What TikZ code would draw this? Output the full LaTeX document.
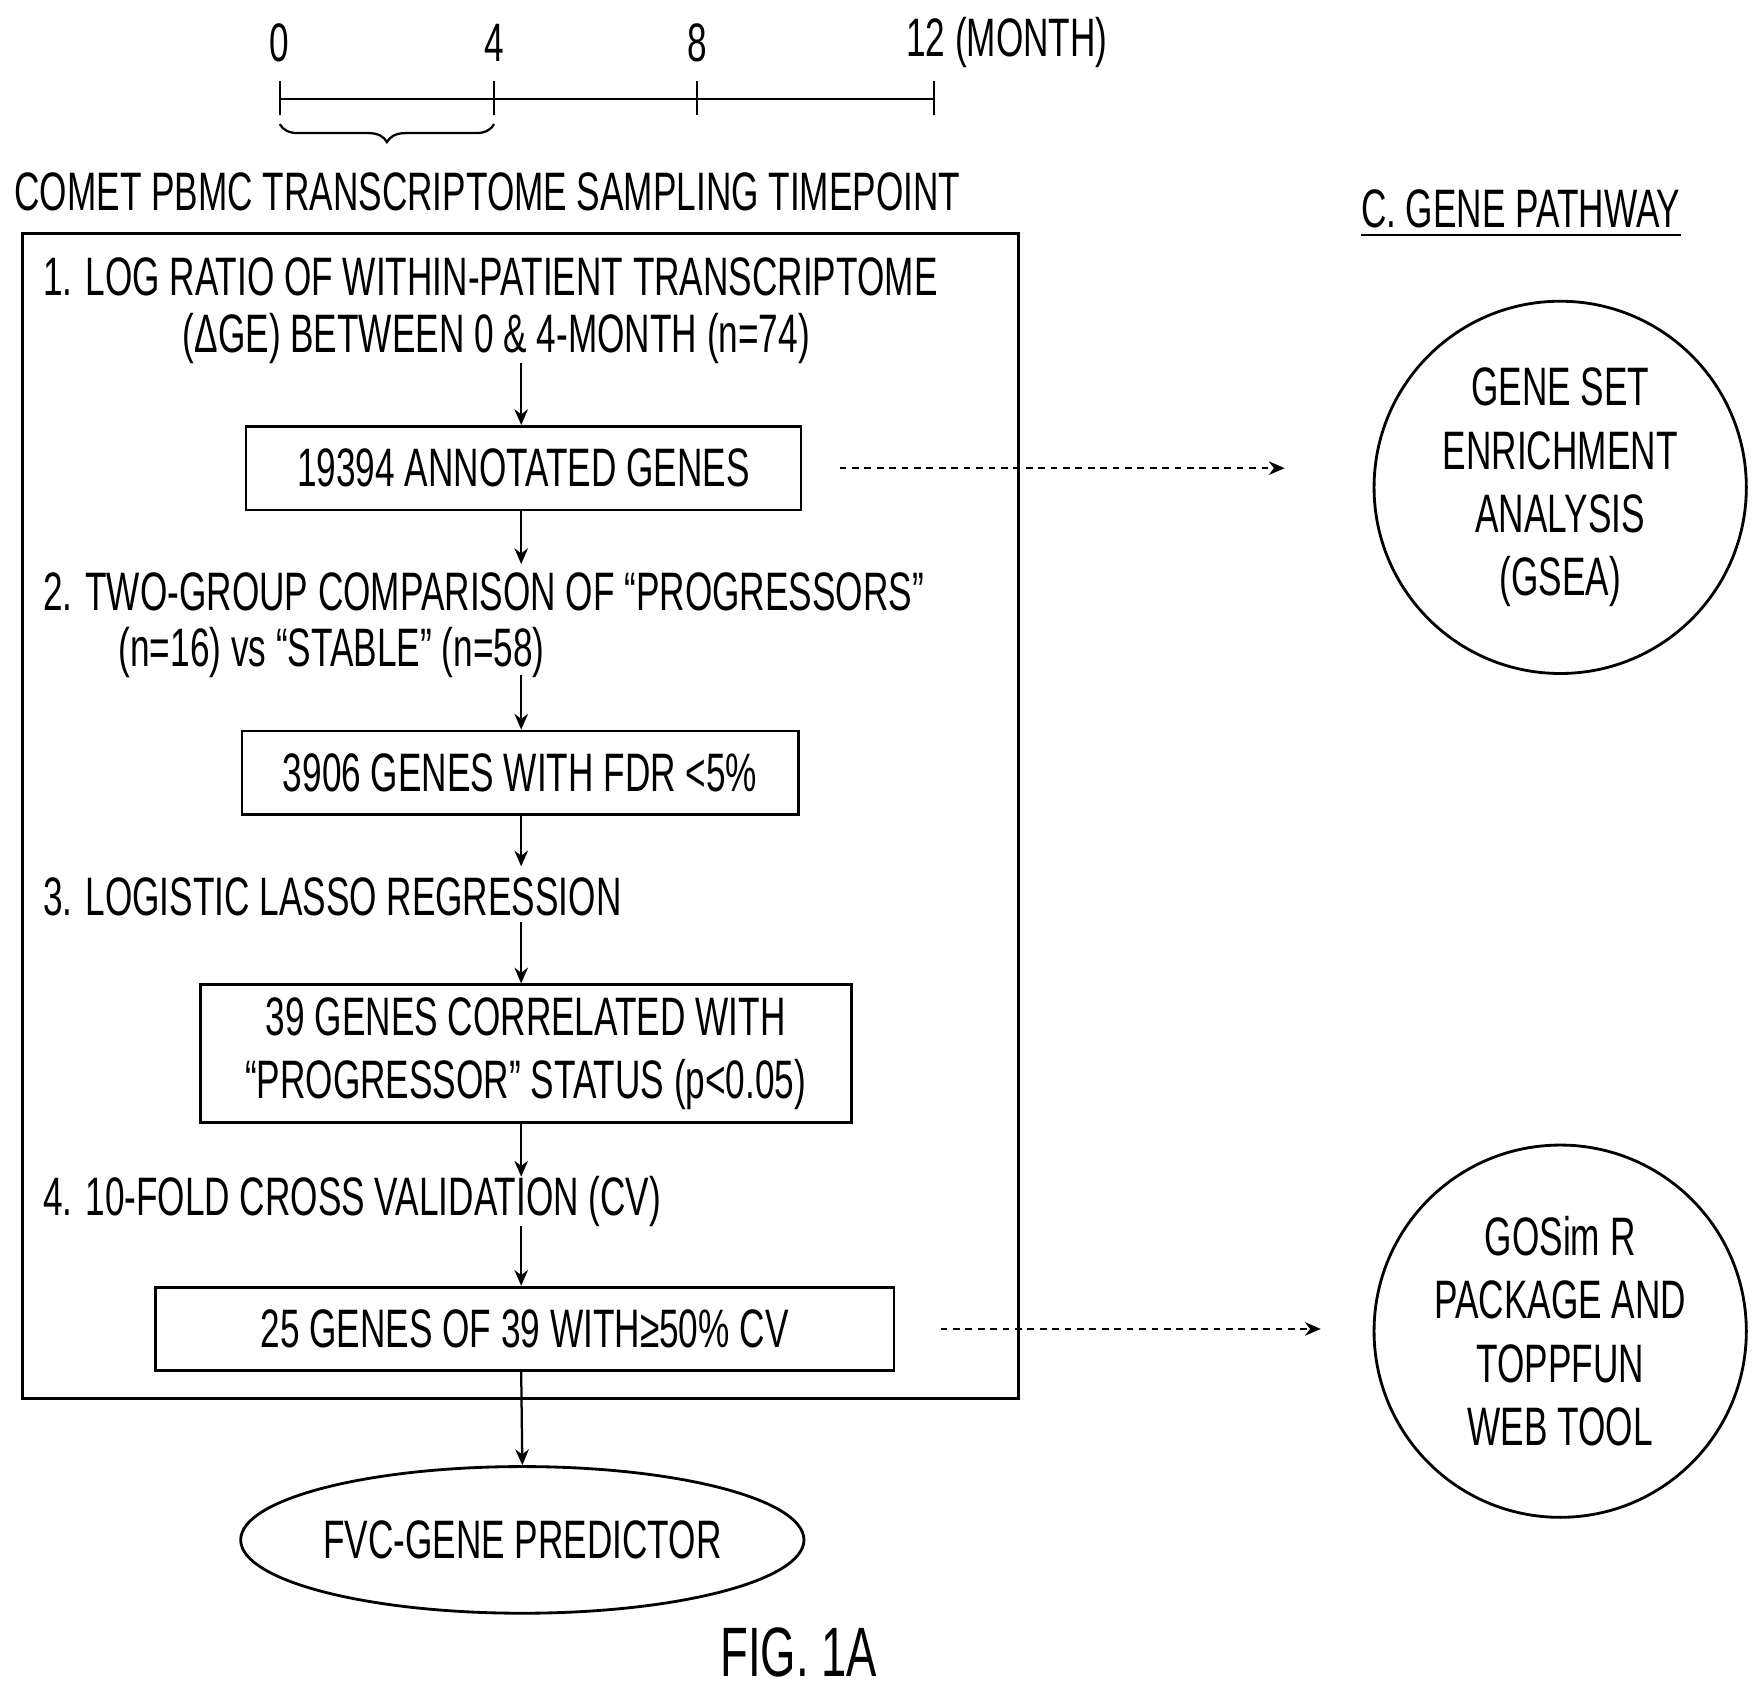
\documentclass[tikz,border=0pt]{standalone}
\usepackage{fontspec}
\setmainfont{Liberation Sans}[FakeStretch=0.65]
\usetikzlibrary{arrows.meta,shapes.geometric,decorations.pathreplacing}

\tikzset{
  txt/.style={inner sep=0pt,font=\fontsize{48}{56}\selectfont},
  stepbox/.style={txt,draw,line width=2.5pt,minimum height=74pt},
  arr/.style={line width=2pt,-{Stealth[length=14pt,width=12pt]}},
  darr/.style={arr,dashed,dash pattern=on 6pt off 5pt},
  tool/.style={txt,circle,draw,line width=2.5pt,minimum size=330pt,align=center}
}

\begin{document}
\begin{tikzpicture}[x=1pt,y=-1pt]
  \useasboundingbox (0,0) rectangle (1561,1502);

  % timeline
  \draw[line width=2pt] (248,88) -- (828,88);
  \foreach \x/\lab in {248/0,438/4,618/8}{
    \draw[line width=2pt] (\x,72) -- (\x,102);
    \node[txt] (m\lab) at (\x,38) {\lab};
  }
  \draw[line width=2pt] (828,72) -- (828,102);
  \node[txt,anchor=west] (m12) at (803,38) {12 (MONTH)};
  \draw[line width=2pt,decorate,decoration={brace,mirror,amplitude=16pt}] (248,110) -- (438,110);
  \node[txt] (sample) at (432,170) {COMET PBMC TRANSCRIPTOME SAMPLING TIMEPOINT};

  % main box
  \draw[line width=2.5pt] (20,207) rectangle (903,1240);

  \node[txt,anchor=west] (s1a) at (38,245) {1. LOG RATIO OF WITHIN-PATIENT TRANSCRIPTOME};
  \node[txt] (s1b) at (440,300) {(ΔGE) BETWEEN 0 \& 4-MONTH (n=74)};
  \node[stepbox,minimum width=492pt] (genes) at (464,415) {19394 ANNOTATED GENES};
  \node[txt,anchor=west] (s2a) at (38,525) {2. TWO-GROUP COMPARISON OF “PROGRESSORS”};
  \node[txt,anchor=west] (s2b) at (105,578) {(n=16) vs “STABLE” (n=58)};
  \node[stepbox,minimum width=493pt] (fdr) at (461,685) {3906 GENES WITH FDR <5\%};
  \node[txt,anchor=west] (s3) at (38,795) {3. LOGISTIC LASSO REGRESSION};
  \node[stepbox,minimum width=577pt,minimum height=122pt,align=center] (lasso) at (466,934)
    {39 GENES CORRELATED WITH\\“PROGRESSOR” STATUS (p<0.05)};
  \node[txt,anchor=west] (s4) at (38,1065) {4. 10-FOLD CROSS VALIDATION (CV)};
  \node[stepbox,minimum width=655pt] (cv) at (465,1178) {25 GENES OF 39 WITH≥50\% CV};
  \node[txt,ellipse,draw,line width=2.5pt,minimum width=470pt,minimum height=130pt] (pred) at (463,1365) {FVC-GENE PREDICTOR};
  \node[txt,font=\fontsize{62}{70}\selectfont] (fig) at (708,1465) {FIG. 1A};

  % pathway side
  \node[txt] (path) at (1348,185) {C. GENE PATHWAY};
  \draw[line width=2pt] ([yshift=-6pt]path.south west) -- ([yshift=-6pt]path.south east);
  \node[tool] (gsea) at (1383,432) {GENE SET\\ENRICHMENT\\ANALYSIS\\(GSEA)};
  \node[tool] (gosim) at (1383,1180) {GOSim R\\PACKAGE AND\\TOPPFUN\\WEB TOOL};

  % arrows
  \draw[arr] (462,322) -- (genes.north -| 462,0);
  \draw[arr] (genes.south -| 462,0) -- (462,500);
  \draw[arr] (462,598) -- (fdr.north -| 462,0);
  \draw[arr] (fdr.south -| 462,0) -- (462,768);
  \draw[arr] (462,817) -- (lasso.north -| 462,0);
  \draw[arr] (lasso.south -| 462,0) -- (462,1043);
  \draw[arr] (462,1087) -- (cv.north -| 462,0);
  \draw[arr] (cv.south -| 462,0) -- (pred.north);
  \draw[darr] ([xshift=33pt]genes.east) -- ([xshift=-78pt]gsea.west |- genes.east);
  \draw[darr] ([xshift=40pt]cv.east) -- ([xshift=-46pt]gosim.west |- cv.east);
\end{tikzpicture}
\end{document}
